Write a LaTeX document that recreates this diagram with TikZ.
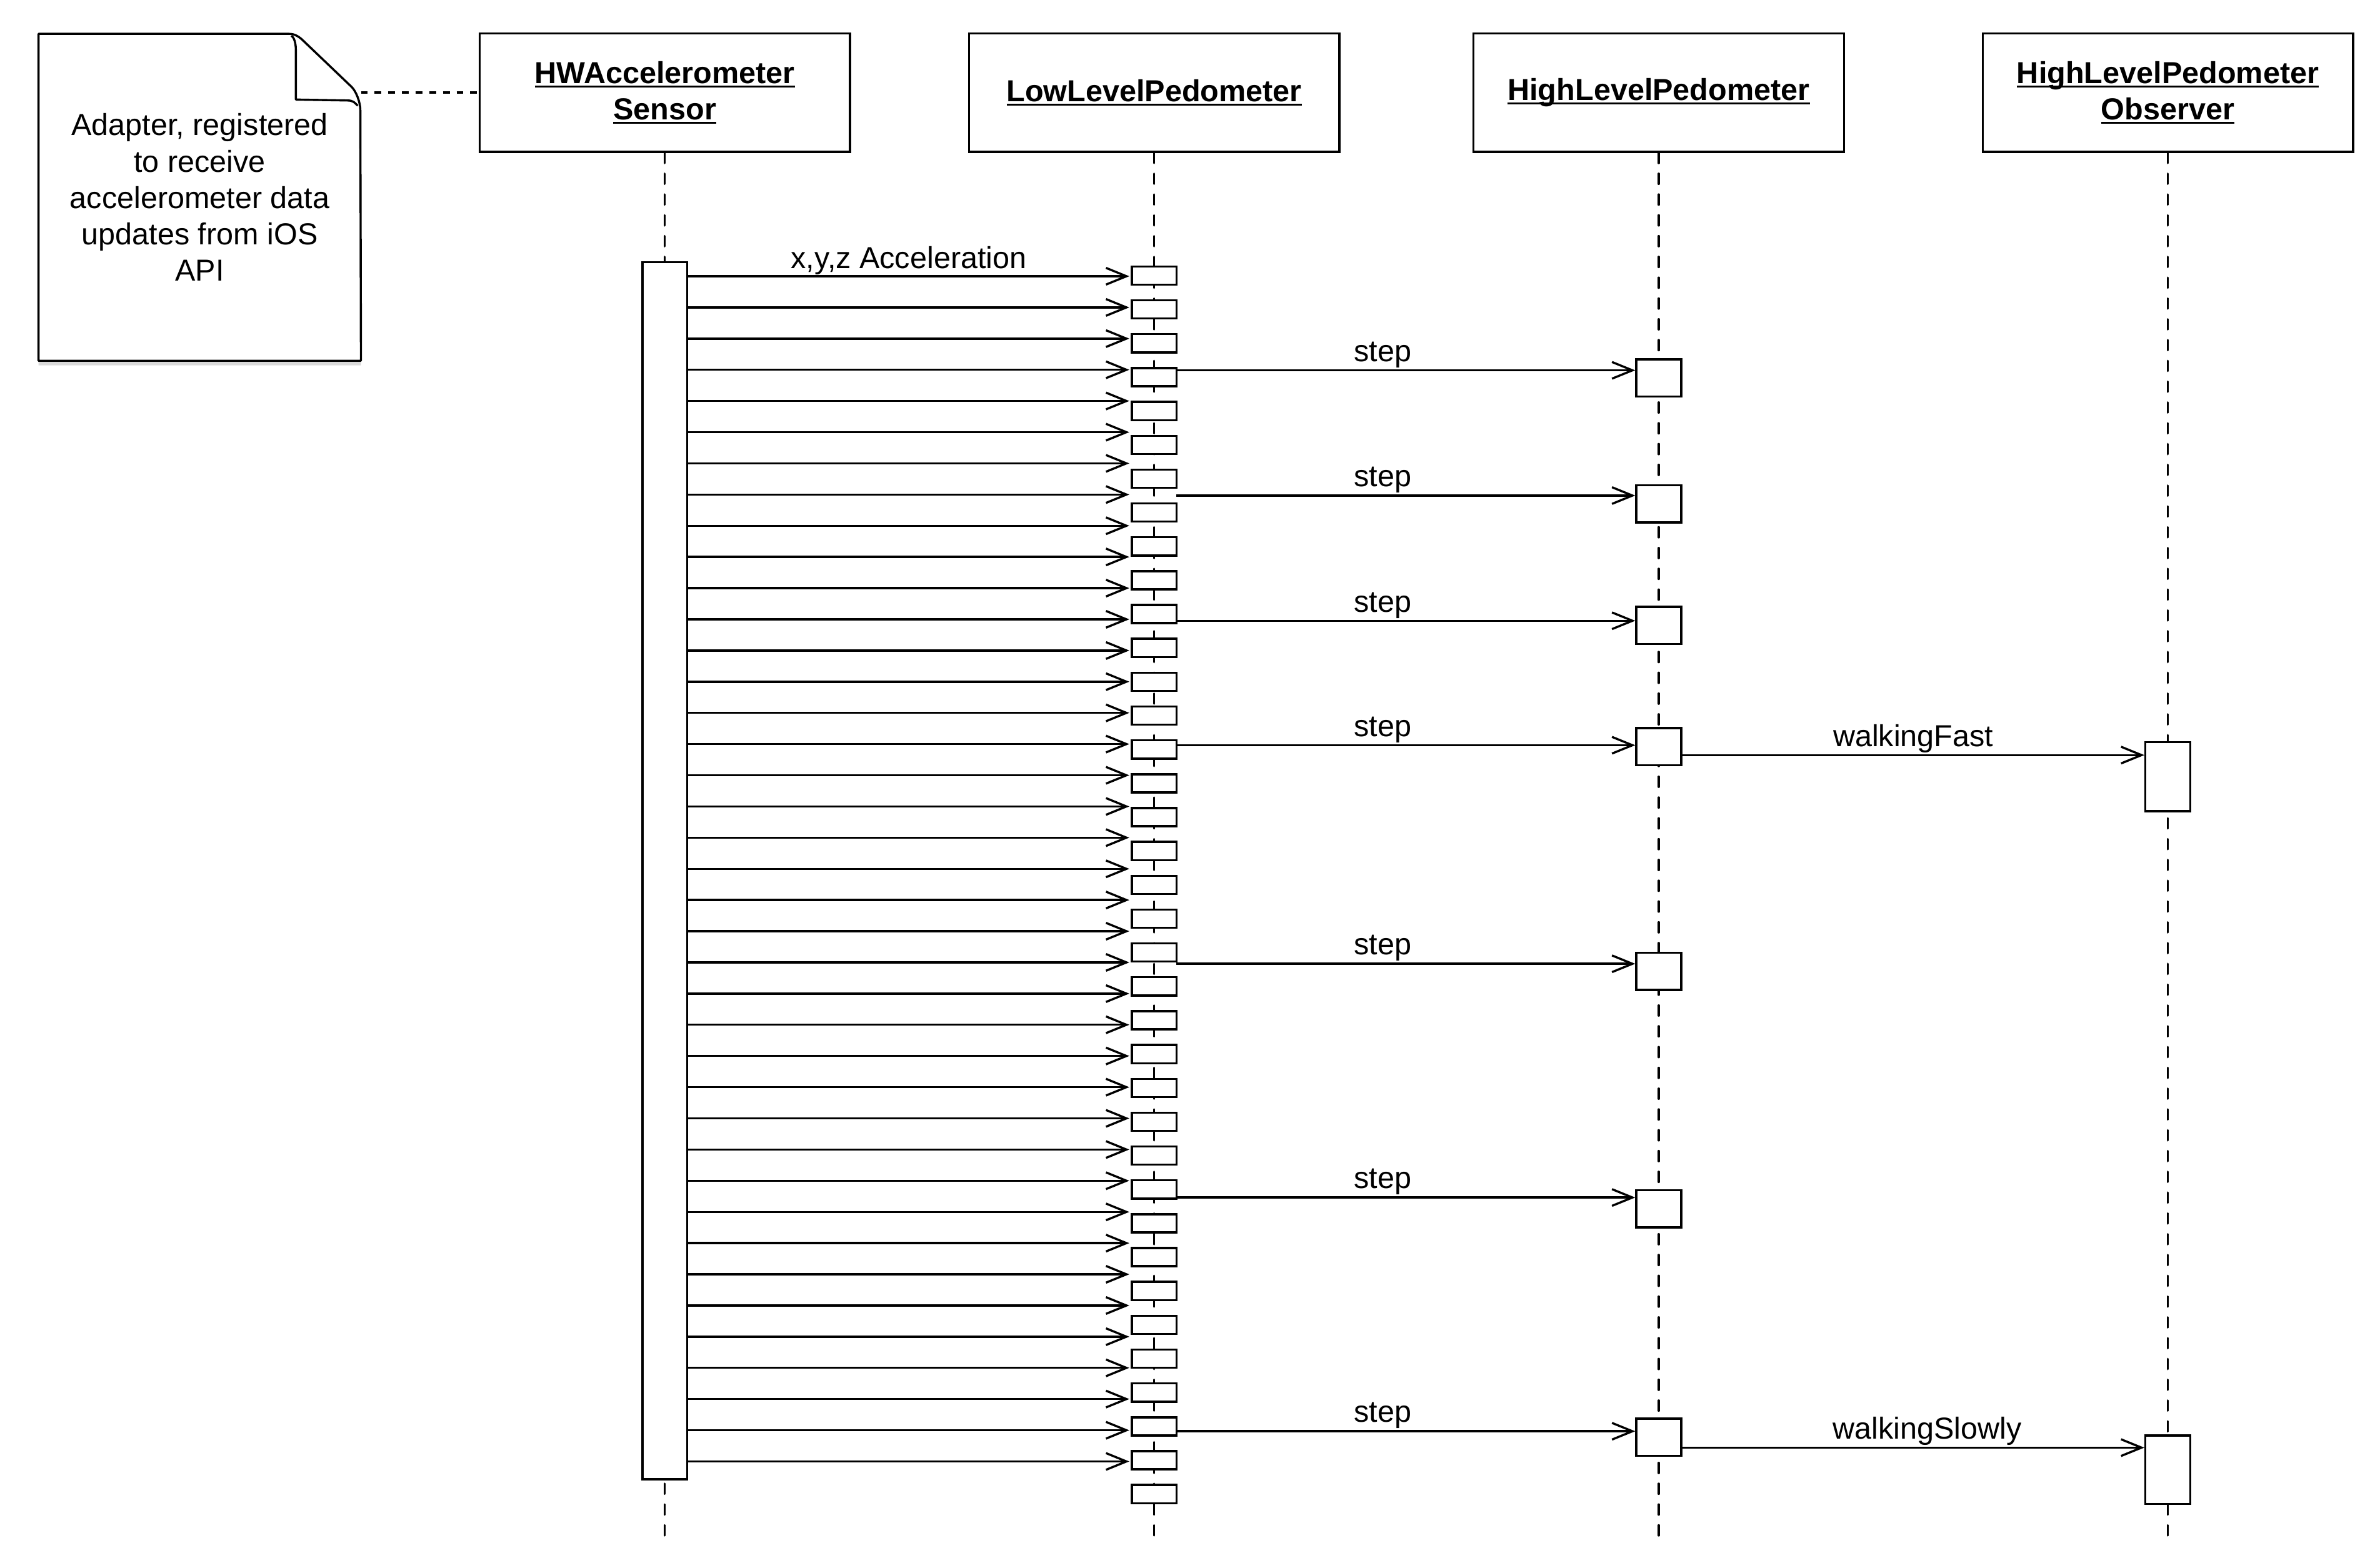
\documentclass[tikz,border=0pt]{standalone}
\usepackage{fontspec}
\setmainfont{Liberation Sans}
\usetikzlibrary{arrows.meta,positioning,shadows,backgrounds}
\newcommand{\hdrul}[1]{\setbox0\hbox{#1}\rlap{\rule[-2.8pt]{\wd0}{1.2pt}}\box0}

\begin{document}
\begin{tikzpicture}[x=1pt,y=-1pt,
    hdr/.style={draw,line width=1.4pt,minimum width=244pt,minimum height=78pt,
      font=\fontsize{20}{24}\selectfont\bfseries,align=center},
    life/.style={line width=1.4pt,line cap=round,dash pattern=on 6.8pt off 6.9pt},
    act/.style={draw,fill=white,line width=1.4pt,minimum width=29.5pt,inner sep=0pt},
    msg/.style={-{Straight Barb[length=13.5pt,width=11pt]},line width=1.4pt},
    lbl/.style={font=\fontsize{20}{24}\selectfont,inner sep=1pt,above},
    notebody/.style={line width=1.4pt,line join=round}
  ]
  \useasboundingbox (0,0) rectangle (1568,1033);
  \node[hdr] (hw) at (438,61) {\hdrul{HWAccelerometer}\\\hdrul{Sensor}};
  \node[hdr,right=77pt of hw] (low) {\hdrul{LowLevelPedometer}};
  \node[hdr,right=87pt of low] (high) {\hdrul{HighLevelPedometer}};
  \node[hdr,right=90pt of high] (obs) {\hdrul{HighLevelPedometer}\\\hdrul{Observer}};
  \coordinate (bottom) at (0,1014);
  \foreach \who in {hw,low,high,obs}
    \draw[life] (\who.south) -- (\who |- bottom);

  \node[font=\fontsize{20}{24}\selectfont,align=center,minimum width=212pt,
    minimum height=215pt,inner sep=0pt] (note) at (131.6,130)
    {Adapter, registered\\to receive\\accelerometer data\\updates from iOS\\API};
  \begin{scope}[on background layer]
    \draw[notebody,fill=white,drop shadow={shadow xshift=0pt,shadow yshift=-3pt,opacity=0.3}]
      (note.south west) -- (note.north west) -- ++(165,0)
      .. controls +(4,0) and +(-3,-3) .. ++(9.9,5) -- ++(31.4,30)
      .. controls +(3,3) and +(0,-5) .. ++(5.7,15.2) -- (note.south east) -- cycle;
    \draw[notebody] (note.north west) ++(166.5,1.3)
      .. controls +(2,1) and +(0,-4) .. ++(3,9.1) -- ++(0,32.9) -- ++(34,0.6)
      .. controls +(4,0) and +(-2,-2) .. ++(6.8,3.5);
  \end{scope}
  \draw[line width=1.4pt,dash pattern=on 4.5pt off 4.5pt] (note.east |- hw.west) -- (hw.west);

  \node[act,minimum height=802pt,anchor=north] (hwact) at (hw |- 0,172) {};
  \foreach \k [evaluate=\k as \yk using 181.6+22.3*\k] in {0,...,36}
    \node[act,minimum height=12pt] (lp\k) at (low |- 0,\yk) {};
  \foreach \k [evaluate=\k as \yk using 182+20.55*\k] in {0,...,38}{
    \coordinate (acc\k) at (744,\yk);
    \draw[msg] (hwact.east |- acc\k) -- (acc\k);
  }
  \path (hwact.east |- acc0) -- node[lbl] (acclbl) {x,y,z Acceleration} (acc0);

  \foreach \i/\ys/\yb in {1/244/249,2/326.5/332,3/409/412,4/491/492,5/635/640,6/789/796.5,7/943/947}{
    \node[act,minimum height=24.5pt] (hp\i) at (high |- 0,\yb) {};
    \coordinate (st\i) at (775,\ys);
    \draw[msg] (st\i) -- node[lbl,pos=0.45] (sl\i) {step} (hp\i.west |- st\i);
  }

  \node[act,minimum height=45.5pt] (ob1) at (obs |- 0,511.7) {};
  \node[act,minimum height=45.2pt] (ob2) at (obs |- 0,968.4) {};
  \coordinate (wf) at (0,497.5);
  \coordinate (ws) at (0,953.8);
  \draw[msg] (hp4.east |- wf) -- node[lbl] (wflbl) {walkingFast} (ob1.west |- wf);
  \draw[msg] (hp7.east |- ws) -- node[lbl,pos=0.53] (wslbl) {walkingSlowly} (ob2.west |- ws);
\end{tikzpicture}
\end{document}
